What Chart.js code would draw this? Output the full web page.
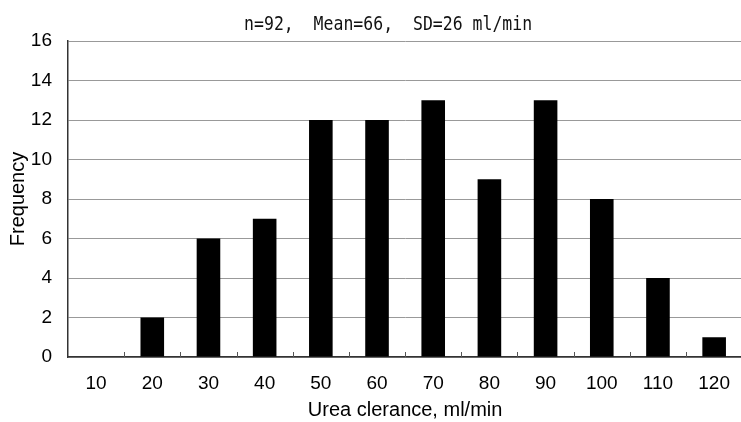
<!DOCTYPE html>
<html>
<head>
<meta charset="utf-8">
<script src="https://cdn.jsdelivr.net/npm/chart.js@4"></script>
<style>
  html, body { margin: 0; padding: 0; background: #fff; overflow: hidden; }
  #wrap { width: 745px; height: 422px; }
</style>
</head>
<body>
<div id="wrap"><canvas id="hist"></canvas></div>
<script>
const categories = ['10', '20', '30', '40', '50', '60', '70', '80', '90', '100', '110', '120'];
const frequency = [0, 2, 6, 7, 12, 12, 13, 9, 13, 8, 4, 1];
const titleText = 'n=92,  Mean=66,  SD=26 ml/min';

// short tick marks pointing up from the x axis at category boundaries
const innerTicks = {
    id: 'innerTicks',
    afterDatasetsDraw(chart) {
        const x = chart.scales.x;
        const ctx = chart.ctx;
        const step = (x.right - x.left) / categories.length;
        ctx.save();
        ctx.strokeStyle = '#555';
        ctx.lineWidth = 1;
        for (let i = 1; i < categories.length; i++) {
            const px = Math.round(x.left + i * step) + 0.5;
            ctx.beginPath();
            ctx.moveTo(px, x.top);
            ctx.lineTo(px, x.top - 5);
            ctx.stroke();
        }
        ctx.restore();
    }
};

// title in a tall narrow mono face, like the original
const gothicTitle = {
    id: 'gothicTitle',
    afterDraw(chart) {
        const ctx = chart.ctx;
        const area = chart.chartArea;
        ctx.save();
        ctx.fillStyle = '#111';
        ctx.font = '16.5px "DejaVu Sans Mono"';
        ctx.textAlign = 'center';
        ctx.textBaseline = 'alphabetic';
        ctx.translate((area.left + area.right) / 2 - 17, 30);
        ctx.scale(1, 1.2);
        ctx.fillText(titleText, 0, 0);
        ctx.restore();
    }
};

const ctx = document.getElementById('hist').getContext('2d');
new Chart(ctx, {
    type: 'bar',
    data: {
        labels: categories,
        datasets: [{
            data: frequency,
            backgroundColor: '#000',
            borderWidth: 0,
            barPercentage: 0.42,
            categoryPercentage: 1.0
        }]
    },
    options: {
        responsive: true,
        maintainAspectRatio: false,
        animation: false,
        layout: { padding: { top: 41, right: 0, left: 6, bottom: 0 } },
        plugins: {
            legend: { display: false },
            tooltip: { enabled: false },
            title: { display: false }
        },
        scales: {
            x: {
                afterFit(scale) { scale.height = 65; },
                grid: { display: false, drawTicks: false },
                border: { display: true, color: '#333', width: 1.5 },
                ticks: {
                    color: '#000',
                    font: { family: 'Liberation Sans', size: 19 },
                    padding: 15,
                    maxRotation: 0
                },
                title: {
                    display: true,
                    text: 'Urea clerance, ml/min',
                    color: '#000',
                    font: { family: 'Liberation Sans', size: 20 },
                    padding: { top: 3, bottom: 0 }
                }
            },
            y: {
                afterFit(scale) { scale.width = 62; },
                min: 0,
                max: 16,
                ticks: {
                    stepSize: 2,
                    color: '#000',
                    font: { family: 'Liberation Sans', size: 19 },
                    padding: 16
                },
                grid: { color: '#999', drawTicks: false },
                border: { display: true, color: '#333', width: 1.5 },
                title: {
                    display: true,
                    text: 'Frequency',
                    color: '#000',
                    font: { family: 'Liberation Sans', size: 20 },
                    padding: { top: 0, bottom: 1 }
                }
            }
        }
    },
    plugins: [innerTicks, gothicTitle]
});
</script>
</body>
</html>
